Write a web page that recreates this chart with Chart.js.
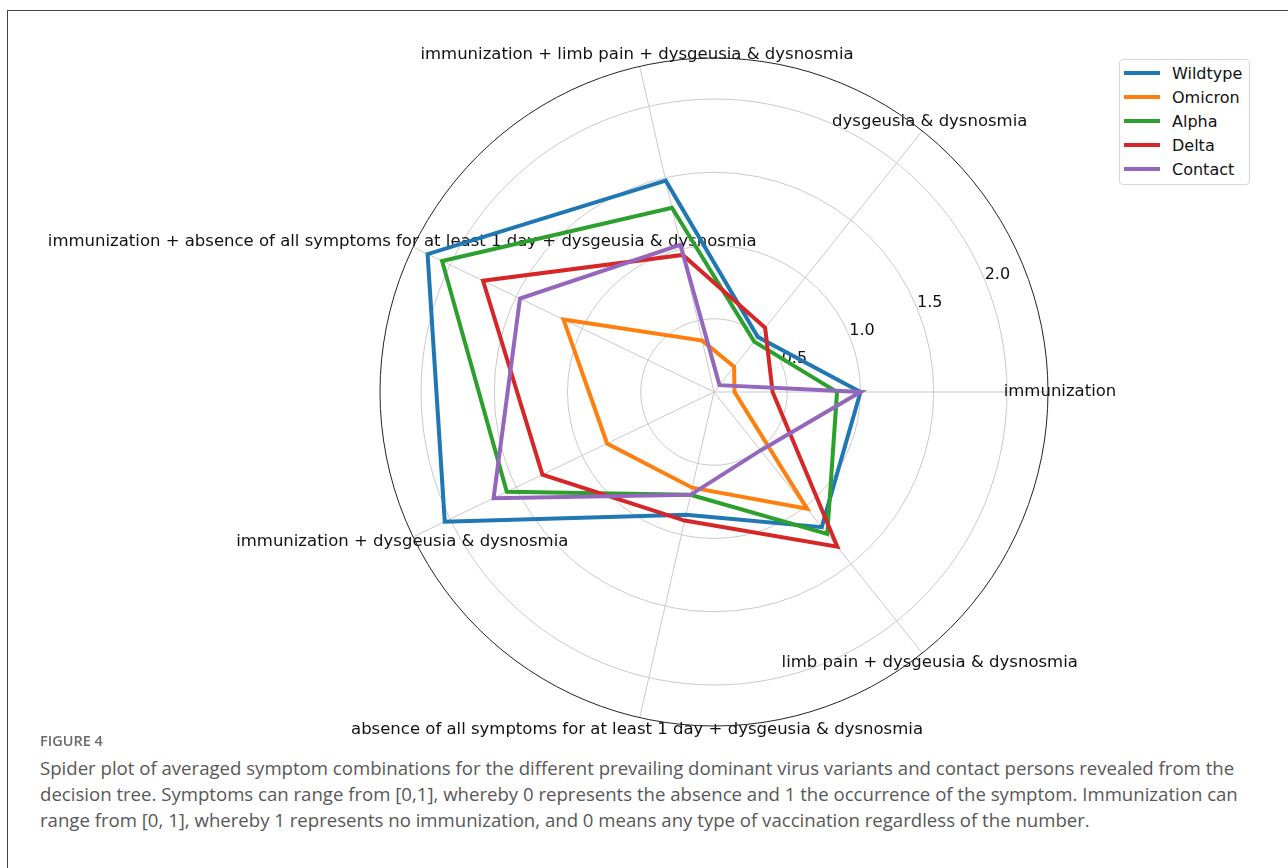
<!DOCTYPE html>
<html>
<head>
<meta charset="utf-8">
<script src="https://cdn.jsdelivr.net/npm/chart.js@4"></script>
<style>
    body { margin: 0; width: 1288px; height: 868px; background: #fff; position: relative; overflow: hidden; }
    .frame { position: absolute; left: 7px; top: 10px; right: 0; bottom: 0; border-top: 1px solid #444; border-left: 1px solid #444; }
    #chartBox { position: absolute; left: 0; top: 0; width: 1288px; height: 740px; }
    #legend { position: absolute; left: 1119px; top: 59px; width: 129px; height: 123px; border: 1px solid #d6d6d6; border-radius: 4px; background: #fff; padding-top: 1px; box-sizing: content-box; }
    #legend .row { height: 24px; display: flex; align-items: center; font-family: "DejaVu Sans", sans-serif; font-size: 16px; color: #111; }
    #legend .swatch { width: 36px; height: 4px; margin-left: 4px; margin-right: 12px; }
    .figno { position: absolute; left: 40px; top: 732px; font-family: "Open Sans", sans-serif; font-weight: 600; font-size: 14.5px; line-height: 18px; color: #6a6a6a; }
    .caption { position: absolute; left: 40px; top: 755px; font-family: "Open Sans", sans-serif; font-size: 18.6px; line-height: 26px; color: #585858; white-space: nowrap; }
</style>
</head>
<body>
<div class="frame"></div>
<div id="chartBox"><canvas id="spider" width="1288" height="740"></canvas></div>
<div id="legend"></div>
<div class="figno">FIGURE 4</div>
<div class="caption">Spider plot of averaged symptom combinations for the different prevailing dominant virus variants and contact persons revealed from the<br>decision tree. Symptoms can range from [0,1], whereby 0 represents the absence and 1 the occurrence of the symptom. Immunization can<br>range from [0, 1], whereby 1 represents no immunization, and 0 means any type of vaccination regardless of the number.</div>
<script>
// axes go clockwise from the right (startAngle 90)
const labels = [
    'immunization',
    'limb pain + dysgeusia & dysnosmia',
    'absence of all symptoms for at least 1 day + dysgeusia & dysnosmia',
    'immunization + dysgeusia & dysnosmia',
    'immunization + absence of all symptoms for at least 1 day + dysgeusia & dysnosmia',
    'immunization + limb pain + dysgeusia & dysnosmia',
    'dysgeusia & dysnosmia'
];

const wildtype = [1.00, 1.18, 0.86, 2.04, 2.17, 1.48, 0.48];
const omicron  = [0.14, 1.02, 0.67, 0.81, 1.14, 0.36, 0.22];
const alpha    = [0.84, 1.24, 0.72, 1.57, 2.06, 1.29, 0.44];
const delta    = [0.40, 1.35, 0.90, 1.30, 1.75, 0.96, 0.56];
const contact  = [1.00, 0.51, 0.72, 1.67, 1.47, 1.03, 0.06];

const seriesNames = ['Wildtype', 'Omicron', 'Alpha', 'Delta', 'Contact'];
const seriesColors = ['#1f77b4', '#ff7f0e', '#2ca02c', '#d62728', '#9467bd'];

const radialTicks = [0, 0.5, 1.0, 1.5, 2.0];
const tickLabels = ['0.5', '1.0', '1.5', '2.0'];
const rMax = 2.28;

const seriesData = [wildtype, omicron, alpha, delta, contact];

// matplotlib-like labels + outer spine, drawn under the lines
const polarDecor = {
    id: 'polarDecor',
    beforeDatasetsDraw(chart) {
        const scale = chart.scales.r;
        const ctx = chart.ctx;
        ctx.save();
        ctx.fillStyle = '#111';
        ctx.font = '16.5px "DejaVu Sans"';

        // theta labels, centred just outside the circle
        ctx.textAlign = 'center';
        ctx.textBaseline = 'middle';
        chart.data.labels.forEach((lab, i) => {
            const p = scale.getPointPosition(i, scale.drawingArea + 12);
            ctx.fillText(lab, p.x, p.y);
        });

        // r labels at 22.5 degrees
        const a = 22.5 * Math.PI / 180;
        ctx.font = '16px "DejaVu Sans"';
        ctx.textAlign = 'left';
        ctx.textBaseline = 'bottom';
        radialTicks.slice(1).forEach((v, i) => {
            const d = scale.getDistanceFromCenterForValue(v);
            ctx.fillText(tickLabels[i], scale.xCenter + Math.cos(a) * d, scale.yCenter - Math.sin(a) * d + 3);
        });

        // outer spine
        ctx.beginPath();
        ctx.strokeStyle = '#222';
        ctx.lineWidth = 1;
        ctx.arc(scale.xCenter, scale.yCenter, scale.drawingArea, 0, Math.PI * 2);
        ctx.stroke();
        ctx.restore();
    }
};

const chart = new Chart(document.getElementById('spider'), {
    type: 'radar',
    data: {
        labels: labels,
        datasets: seriesNames.map((name, i) => ({
            label: name,
            data: seriesData[i],
            borderColor: seriesColors[i],
            backgroundColor: seriesColors[i],
            borderWidth: 4,
            pointRadius: 0,
            fill: false,
            tension: 0,
            order: seriesNames.length - i
        }))
    },
    options: {
        responsive: false,
        animation: false,
        devicePixelRatio: 1,
        layout: { padding: { left: 380, right: 240, top: 58, bottom: 14 } },
        plugins: {
            legend: { display: false },
            tooltip: { enabled: false }
        },
        scales: {
            r: {
                min: 0,
                max: rMax,
                startAngle: 90,
                afterBuildTicks: (scale) => {
                    scale.ticks = radialTicks.map(v => ({ value: v }));
                },
                ticks: { display: false },
                pointLabels: { display: false },
                grid: { circular: true, color: '#c9c9c9', lineWidth: 1 },
                angleLines: { color: '#c9c9c9', lineWidth: 1 }
            }
        }
    },
    plugins: [polarDecor]
});

// html legend from the datasets
const legendBox = document.getElementById('legend');
chart.data.datasets.forEach(ds => {
    const row = document.createElement('div');
    row.className = 'row';
    const sw = document.createElement('span');
    sw.className = 'swatch';
    sw.style.background = ds.borderColor;
    const txt = document.createElement('span');
    txt.textContent = ds.label;
    row.appendChild(sw);
    row.appendChild(txt);
    legendBox.appendChild(row);
});
</script>
</body>
</html>
